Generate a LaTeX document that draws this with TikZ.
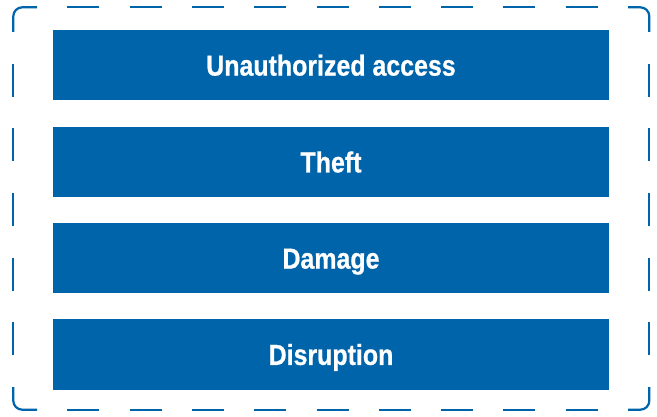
\documentclass[tikz,border=0pt]{standalone}
\usepackage{fontspec}
\setmainfont{Liberation Sans}[FakeStretch=0.86, BoldFeatures={FakeBold=0.7}]
\definecolor{blu}{RGB}{0,100,170}
\tikzset{
  bar/.style={fill=blu, text=white, minimum width=556pt, minimum height=70.5pt, inner sep=0pt,
    text height=20.8pt, text depth=0pt,
    font=\fontsize{29}{32}\selectfont\bfseries},
  frame/.style={draw=blu, line width=2.2pt},
  hdash/.style={frame, dash pattern=on 32pt off 30.3pt, dash phase=32pt},
  vdash/.style={frame, dash pattern=on 33pt off 31.67pt, dash phase=33pt}
}
\begin{document}
\begin{tikzpicture}[x=1pt,y=-1pt]
\useasboundingbox (0,0) rectangle (657,417);
% boxes
\node[bar] (b1) at (331,65.2) {Unauthorized access};
\node[bar] (b2) at (331,162) {Theft};
\node[bar] (b3) at (331,258.2) {Damage};
\node[bar] (b4) at (331,354.5) {Disruption};
% dashed rounded frame
\coordinate (tl) at (13.3,7.3);
\coordinate (tr) at (649.3,7.3);
\coordinate (bl) at (13.3,409.7);
\coordinate (br) at (649.3,409.7);
\draw[frame, rounded corners=9pt] (37,7.3) -- (tl) -- (13.3,32);
\draw[frame, rounded corners=9pt] (628,7.3) -- (tr) -- (649.3,32);
\draw[frame, rounded corners=9pt] (37,409.7) -- (bl) -- (13.3,387);
\draw[frame, rounded corners=9pt] (628,409.7) -- (br) -- (649.3,387);
\draw[hdash] (37,7.3) -- (628,7.3);
\draw[hdash] (37,409.7) -- (628,409.7);
\draw[vdash] (13.3,32) -- (13.3,387);
\draw[vdash] (649.3,32) -- (649.3,387);
\end{tikzpicture}
\end{document}
